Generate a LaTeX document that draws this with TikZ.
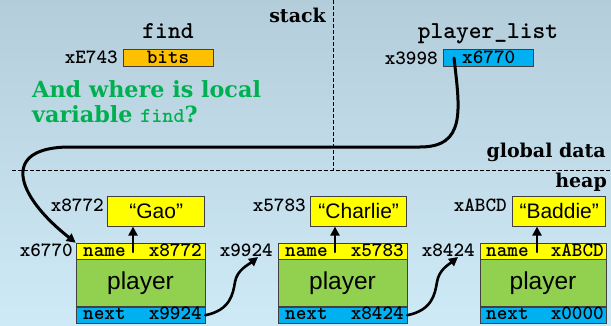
\documentclass[tikz,border=0pt]{standalone}
\usepackage{fontspec}
\setsansfont{Liberation Sans}
\newfontfamily\regionfont{DejaVu Serif}
\usepackage{tikz}
\usetikzlibrary{arrows.meta,positioning}

\definecolor{bgtop}{RGB}{180,205,219}
\definecolor{bgbottom}{RGB}{207,234,247}
\definecolor{strcolor}{RGB}{255,255,0}
\definecolor{bodycolor}{RGB}{146,208,80}
\definecolor{ptrcolor}{RGB}{0,176,240}
\definecolor{bitscolor}{RGB}{255,192,0}
\definecolor{quizcolor}{RGB}{0,176,80}

\begin{document}
\begin{tikzpicture}[x=1pt,y=-1pt,
    every node/.style={inner sep=0pt},
    regionlbl/.style={font={\regionfont\bfseries\fontsize{19}{22}\selectfont}},
    varname/.style={font={\ttfamily\bfseries\fontsize{24.3}{26}\selectfont}},
    addr/.style={font={\ttfamily\bfseries\fontsize{20.2}{22}\selectfont}},
    cell/.style={draw=black!75, line width=0.6pt},
    namerow/.style={cell, fill=strcolor, minimum width=129pt, minimum height=16pt},
    bodybox/.style={cell, fill=bodycolor, minimum width=129pt, minimum height=47pt, font=\fontsize{24.5}{26}\selectfont\sffamily},
    nextrow/.style={cell, fill=ptrcolor, minimum width=129pt, minimum height=16pt},
    strbox/.style={cell, fill=strcolor, minimum height=30pt, font=\fontsize{21}{24}\selectfont\sffamily},
    ptr/.style={line width=2.6pt, line cap=round, -{Triangle[length=9pt,width=9pt]}},
    regionline/.style={dash pattern=on 4pt off 2pt, line width=0.9pt}
]
    % Background
    \shade[top color=bgtop, bottom color=bgbottom] (0,0) rectangle (611,325);
    \useasboundingbox (0,0) rectangle (611,325);

    % Memory regions
    \draw[regionline] (333,0) -- (333,170);
    \draw[regionline] (12,170) -- (611,170);
    \node[regionlbl, anchor=base east] (stacklbl) at (326,22) {stack};
    \node[regionlbl, anchor=base east] (globallbl) at (606,157) {global data};
    \node[regionlbl, anchor=base east] (heaplbl) at (607,187) {heap};

    % Local variable find
    \node[varname, anchor=base] (findname) at (168,38) {find};
    \node[cell, addr, fill=bitscolor, minimum width=90pt, minimum height=17pt] (bits) at (168,57.5) {bits};
    \node[addr, anchor=base east] (bitsaddr) at (118,63) {xE743};

    % Question
    \node[anchor=north west, align=left, text=quizcolor, font={\regionfont\bfseries\fontsize{22.3}{25}\selectfont}] (quiz) at (32,80)
        {And where is local\\variable {\ttfamily\fontsize{21.1}{25}\selectfont find}?};

    % Global variable player_list
    \node[varname, anchor=base] (plname) at (488,38) {player\_list};
    \node[cell, fill=ptrcolor, minimum width=90pt, minimum height=17pt] (plist) at (488,57.5) {};
    \node[addr, anchor=base west] (plistval) at (462,63.5) {x6770};
    \node[addr, anchor=base east] (plistaddr) at (438,64) {x3998};

    % Player 1
    \node[namerow] (n1) at (140.5,251) {};
    \node[bodybox, below=0pt of n1] (b1) {player};
    \node[nextrow, below=0pt of b1] (x1) {};
    \node[addr, anchor=base west] (n1l) at (83,256) {name};
    \node[addr, anchor=base east] (n1r) at (202,256) {x8772};
    \node[addr, anchor=base west] (x1l) at (83,319) {next};
    \node[addr, anchor=base east] (x1r) at (202,319) {x9924};
    \node[addr, anchor=base east] (a6770) at (73,256) {x6770};
    \node[strbox, minimum width=97pt, anchor=north east] (gao) at (205,196) {“Gao”};
    \node[addr, anchor=base east] (a8772) at (104,211) {x8772};

    % Player 2
    \node[namerow] (n2) at (342.5,251) {};
    \node[bodybox, below=0pt of n2] (b2) {player};
    \node[nextrow, below=0pt of b2] (x2) {};
    \node[addr, anchor=base west] (n2l) at (285,256) {name};
    \node[addr, anchor=base east] (n2r) at (404,256) {x5783};
    \node[addr, anchor=base west] (x2l) at (285,319) {next};
    \node[addr, anchor=base east] (x2r) at (404,319) {x8424};
    \node[addr, anchor=base east] (a9924) at (273,256) {x9924};
    \node[strbox, minimum width=96pt, anchor=north east] (charlie) at (407,196) {“Charlie”};
    \node[addr, anchor=base east] (a5783) at (306,211) {x5783};

    % Player 3
    \node[namerow, minimum width=126pt] (n3) at (543,251) {};
    \node[bodybox, minimum width=126pt, below=0pt of n3] (b3) {player};
    \node[nextrow, minimum width=126pt, below=0pt of b3] (x3) {};
    \node[addr, anchor=base west] (n3l) at (486,256) {name};
    \node[addr, anchor=base east] (n3r) at (604,256) {xABCD};
    \node[addr, anchor=base west] (x3l) at (486,319) {next};
    \node[addr, anchor=base east] (x3r) at (604,319) {x0000};
    \node[addr, anchor=base east] (a8424) at (475,256) {x8424};
    \node[strbox, minimum width=93pt, anchor=north east] (baddie) at (606,196) {“Baddie”};
    \node[addr, anchor=base east] (aabcd) at (507,211) {xABCD};

    % Pointers
    \coordinate (plstart) at (454,58);
    \draw[ptr, line width=3pt] (plstart) .. controls (460,110) and (466,147) .. (420,147)
        -- (70,147) .. controls (0,147) and (15,195) .. (n1.north west);

    \coordinate (p1) at (133,252);
    \coordinate (p2) at (335,252);
    \coordinate (p3) at (537,252);
    \draw[ptr] (p1) -- (p1 |- gao.south);
    \draw[ptr] (p2) -- (p2 |- charlie.south);
    \draw[ptr] (p3) -- (p3 |- baddie.south);

    \coordinate (t1) at (258,257);
    \coordinate (t2) at (458,257);
    \draw[ptr] (x1.east) .. controls +(25,-5) and +(-2,12) .. (235,282)
        .. controls +(2,-12) and +(-10,8) .. (t1);
    \draw[ptr] (x2.east) .. controls +(25,-5) and +(-2,12) .. (437,282)
        .. controls +(2,-12) and +(-10,8) .. (t2);
\end{tikzpicture}
\end{document}
